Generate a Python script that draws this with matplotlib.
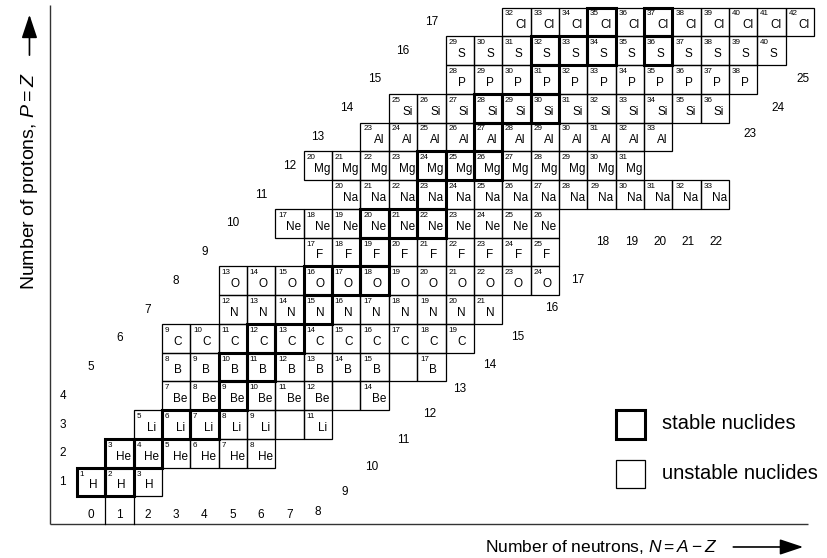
import matplotlib
matplotlib.use("Agg")
import matplotlib.pyplot as plt
from matplotlib.patches import Rectangle

plt.rcParams['font.family'] = ['Liberation Sans', 'DejaVu Sans']
plt.rcParams['mathtext.fontset'] = 'custom'
plt.rcParams['mathtext.rm'] = 'Liberation Sans'
plt.rcParams['mathtext.it'] = 'Liberation Sans:italic'

# ---- data: light nuclides, Z = 1..17 ----
symbols = ["H", "He", "Li", "Be", "B", "C", "N", "O", "F", "Ne",
           "Na", "Mg", "Al", "Si", "P", "S", "Cl"]
mass_first = [1, 3, 5, 7, 8, 9, 12, 13, 17, 17, 20, 20, 23, 25, 28, 29, 32]
mass_last = [3, 8, 11, 14, 17, 19, 21, 24, 25, 26, 33, 31, 33, 36, 38, 40, 42]
# boxes drawn without a label (unbound nuclei)
unlabelled = {"Li": [10], "Be": [13], "B": [16]}
stable = {
    "H": [1, 2], "He": [3, 4], "Li": [6, 7], "Be": [9], "B": [10, 11],
    "C": [12, 13], "N": [15], "O": [16, 17, 18], "F": [19],
    "Ne": [20, 21, 22], "Na": [23], "Mg": [24, 25, 26], "Al": [27],
    "Si": [28, 29, 30], "P": [31], "S": [32, 33, 34, 36], "Cl": [35, 37],
}
proton_numbers = list(range(1, 18))
neutron_numbers = list(range(0, 26))

# ---- layout ----
THIN, THICK = 0.9, 2.2
fig = plt.figure(figsize=(8.27, 5.58), dpi=100)
ax = fig.add_axes([0, 0, 1, 1])
ax.set_xlim(-3.209, 25.952)
ax.set_ylim(-1.643, 17.765)
ax.axis('off')

thick_cells = []
for z, (sym, a0, a1) in enumerate(zip(symbols, mass_first, mass_last), start=1):
    for a in range(a0, a1 + 1):
        n = a - z
        ax.add_patch(Rectangle((n - 0.5, z - 0.5), 1, 1, fill=False,
                               lw=THIN, ec='black', zorder=2))
        if a in unlabelled.get(sym, []):
            continue
        ax.text(n - 0.40, z + 0.40, str(a), fontsize=5.8, ha='left',
                va='top', zorder=4)
        x_sym = n + 0.15 if len(sym) == 2 else n + 0.07
        ax.text(x_sym, z - 0.12, sym, fontsize=8.5, ha='center',
                va='center', zorder=4)
        if a in stable.get(sym, []):
            thick_cells.append((n, z))

for n, z in thick_cells:
    ax.add_patch(Rectangle((n - 0.5, z - 0.5), 1, 1, fill=False,
                           lw=THICK, ec='black', zorder=3,
                           joinstyle='miter'))

# axes lines
ax.plot([-1.446, -1.446], [-0.461, 17.59], color='#333333', lw=1.0,
        solid_capstyle='butt')
ax.plot([-1.446, 25.28], [-0.461, -0.461], color='#333333', lw=1.0,
        solid_capstyle='butt')
for xv in (0.5, 1.5):
    ax.plot([xv, xv], [0.5, -0.461], color='black', lw=THIN)

# proton-number labels
for z in proton_numbers:
    ax.text(max(z - 5, -1), z, str(z), fontsize=8.5, ha='center',
            va='center')

# neutron-number labels
label_pos = {9: (8.96, 0.65), 10: (9.91, 1.52), 11: (11.0, 2.46),
             12: (11.95, 3.37), 13: (13.01, 4.23), 14: (14.07, 5.07),
             15: (15.06, 6.04), 16: (16.25, 7.05), 17: (17.17, 8.03),
             23: (23.24, 13.1), 24: (24.22, 14.0), 25: (25.1, 15.0)}
for n in neutron_numbers:
    if n <= 8:
        pos = (n, -0.15 if n < 8 else -0.05)
    elif n in label_pos:
        pos = label_pos[n]
    else:
        pos = (n + 0.05, 9.35)
    ax.text(pos[0], pos[1], str(n), fontsize=8.5, ha='center', va='center')

# legend
ax.add_patch(Rectangle((18.5, 2.5), 1.02, 1.0, fill=False, lw=THICK,
                       ec='black'))
ax.add_patch(Rectangle((18.5, 0.78), 1.02, 1.0, fill=False, lw=THIN,
                       ec='black'))
ax.text(20.13, 3.02, "stable nuclides", fontsize=14.5, ha='left',
        va='center')
ax.text(20.13, 1.28, "unstable nuclides", fontsize=14.5, ha='left',
        va='center')

# axis titles with arrows
arrow_style = dict(arrowstyle='-|>,head_length=0.9,head_width=0.3',
                   lw=1.2, color='black', mutation_scale=16)
ax.text(13.89, -1.26, r"Number of neutrons, $N = A - Z$", fontsize=12.5,
        ha='left', va='center')
ax.annotate('', xy=(25.21, -1.26), xytext=(22.55, -1.26),
            arrowprops=arrow_style)
ax.text(-2.17, 7.68, r"Number of protons, $P = Z$", fontsize=14,
        ha='left', va='center', rotation=90, rotation_mode='anchor')
ax.annotate('', xy=(-2.17, 17.35), xytext=(-2.17, 15.75),
            arrowprops=arrow_style)

fig.savefig("out.png", dpi=100)
